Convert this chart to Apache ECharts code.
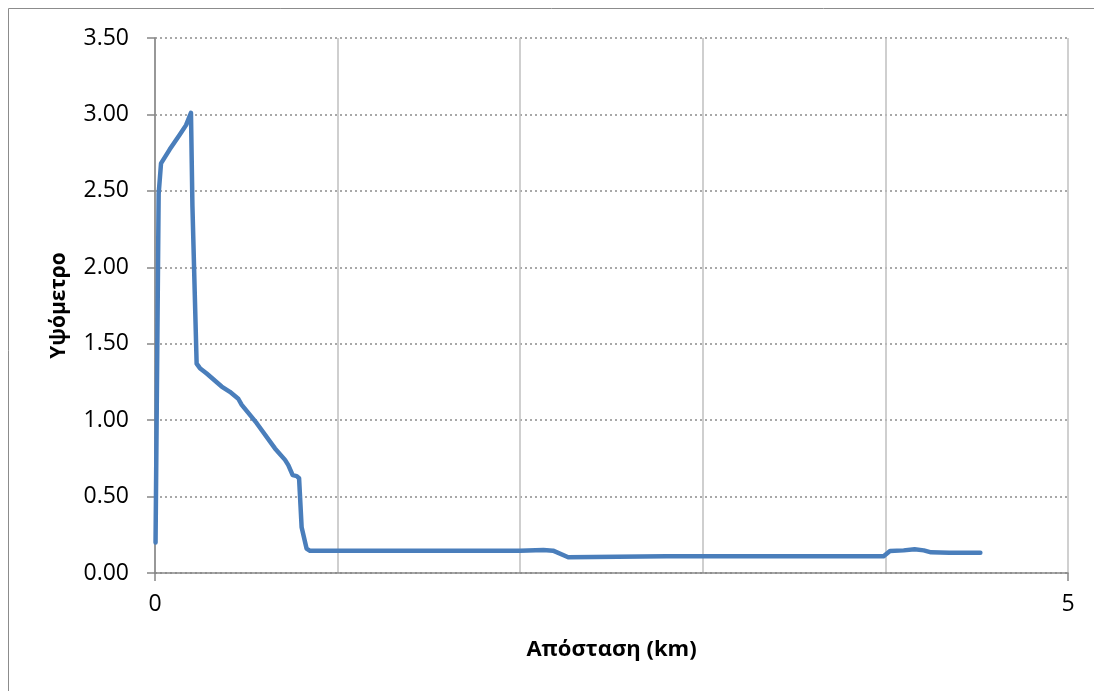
<!DOCTYPE html>
<html><head><meta charset="utf-8">
<script src="https://cdn.jsdelivr.net/npm/echarts@6/dist/echarts.min.js"></script>
<style>html,body{margin:0;padding:0;background:#fff}#c{width:1094px;height:691px}</style>
</head><body><div id="c"></div>
<script>
const distanceKm = [0.003,0.02,0.033,0.08,0.137,0.17,0.197,0.205,0.228,0.246,0.283,0.365,0.41,0.456,0.475,0.557,0.657,0.712,0.73,0.754,0.776,0.789,0.803,0.83,0.849,1.2,1.6,2.0,2.127,2.18,2.263,2.40,2.8,3.2,3.6,3.99,4.025,4.1,4.16,4.21,4.25,4.35,4.52];
const elevation = [0.20,2.48,2.68,2.77,2.87,2.93,3.01,2.4,1.37,1.34,1.305,1.22,1.185,1.14,1.10,0.98,0.815,0.74,0.706,0.64,0.634,0.62,0.30,0.16,0.145,0.145,0.145,0.145,0.15,0.146,0.103,0.105,0.11,0.11,0.11,0.11,0.144,0.148,0.155,0.148,0.135,0.133,0.133];
const yTicks = ['0.00','0.50','1.00','1.50','2.00','2.50','3.00','3.50'];
const xTitle = 'Απόσταση (km)';
const yTitle = 'Υψόμετρο';

const font = '"Open Sans", "Noto Sans", sans-serif';
const chart = echarts.init(document.getElementById('c'));
chart.setOption({
  animation: false,
  graphic: [{type:'rect', shape:{x:8.5,y:8.5,width:1090,height:690}, style:{fill:'none', stroke:'#8c8c8c', lineWidth:1}}],
  grid: {left:155, right:26, top:38, bottom:118},
  xAxis: {
    type:'value', min:0, max:5, interval:5,
    name: xTitle, nameLocation:'middle', nameGap:66,
    nameTextStyle:{fontFamily:font, fontSize:22, fontWeight:'bold', color:'#000'},
    axisLine:{show:true, lineStyle:{color:'#868686', width:1.5}},
    axisTick:{show:true, length:8, lineStyle:{color:'#868686', width:1.5}},
    axisLabel:{fontFamily:font, fontSize:23, color:'#000', margin:20},
    splitLine:{show:true, lineStyle:{color:'#c0c0c0', width:1.5}},
    minorTick:{show:false, splitNumber:5},
    minorSplitLine:{show:true, lineStyle:{color:'#c0c0c0', width:1.5}}
  },
  yAxis: {
    type:'value', min:0, max:3.5, interval:0.5,
    name: yTitle, nameLocation:'middle', nameGap:85, nameRotate:90,
    nameTextStyle:{fontFamily:font, fontSize:21, fontWeight:'bold', color:'#000'},
    axisLine:{show:true, lineStyle:{color:'#868686', width:1.5}},
    axisTick:{show:true, length:8, lineStyle:{color:'#868686', width:1.5}},
    axisLabel:{fontFamily:font, fontSize:23, color:'#000', margin:26,
      formatter: v => yTicks[Math.round(v/0.5)]},
    splitLine:{show:true, lineStyle:{color:'#8c8c8c', width:1.5, type:[2,3]}}
  },
  series: [{
    type:'line', data: distanceKm.map((x,i)=>[x, elevation[i]]),
    showSymbol:false, symbol:'none',
    lineStyle:{color:'#4a7ebb', width:4.5, cap:'round', join:'round'}
  }]
});
</script></body></html>
